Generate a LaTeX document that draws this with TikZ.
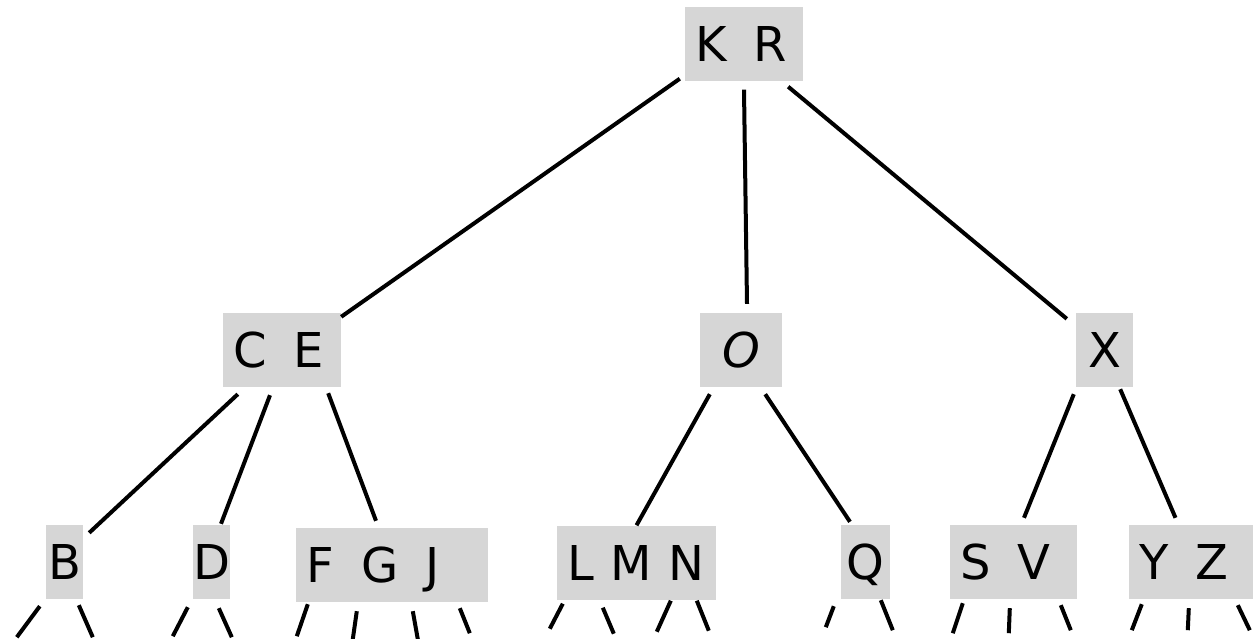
\documentclass[tikz,border=0pt]{standalone}
\usepackage{fontspec}
\setmainfont{DejaVu Sans}[WordSpace=1.8]
\newfontfamily\tightfamily{DejaVu Sans}[WordSpace=1.1]
\definecolor{keygray}{RGB}{214,214,214}
\newcommand{\keyfont}{\fontsize{48}{58}\selectfont}
\newcommand{\tightkeyfont}{\tightfamily\fontsize{48}{58}\selectfont}

\begin{document}
\begin{tikzpicture}[x=1pt,y=-1pt,
  key/.style={fill=keygray,minimum height=74pt,text height=35pt,text depth=0pt,
    inner xsep=10pt,align=flush left,font=\keyfont},
  single/.style={inner xsep=0pt,align=flush center},
  link/.style={line width=4pt}]
\useasboundingbox (0,0) rectangle (1253,639);

% root
\node[key,text width=98pt] (kr) at (744,44.5) {K R};

% middle row
\node[key,text width=98pt] (ce) at (282,350) {C E};
\node[key,single,minimum width=82pt] (o) at (741,350) {\itshape O};
\node[key,single,minimum width=57pt] (x) at (1104.5,350) {X};

% bottom row
\node[key,single,minimum width=37pt] (b) at (64.5,562) {B};
\node[key,single,minimum width=37pt] (d) at (211.5,562) {D};
\node[key,text width=172pt] (fgj) at (392,565) {F G J};
\node[key,text width=139pt,font=\tightkeyfont] (lmn) at (636.5,562.5) {L M N};
\node[key,single,minimum width=49pt] (q) at (865.5,562) {Q};
\node[key,text width=107pt] (sv) at (1013.5,562) {S V};
\node[key,text width=104pt] (yz) at (1191,562) {Y Z};

% links
\draw[link] ([shift={(-5,-3)}]kr.south west) -- ([shift={(0,4)}]ce.north east);
\draw[link] ([shift={(0,8)}]kr.south) -- ([shift={(6,-9)}]o.north);
\draw[link] ([shift={(-15,5)}]kr.south east) -- ([shift={(-9,6)}]x.north west);

\draw[link] ([shift={(15,7)}]ce.south west) -- ([shift={(6,8)}]b.north east);
\draw[link] ([shift={(-12,8)}]ce.south) -- ([shift={(9.5,-1)}]d.north);
\draw[link] ([shift={(-13,6)}]ce.south east) -- ([shift={(-16,-7)}]fgj.north);

\draw[link] ([shift={(10,7)}]o.south west) -- (lmn.north);
\draw[link] ([shift={(-17,7)}]o.south east) -- ([shift={(-15.5,-3)}]q.north);

\draw[link] ([shift={(-2,7)}]x.south west) -- ([shift={(10.5,-7)}]sv.north);
\draw[link] ([shift={(-13,2)}]x.south east) -- ([shift={(-15.5,-7)}]yz.north);

% links to the next level
\draw[link] ([shift={(-6,7)}]b.south west) -- ++(-23,31)
  ([shift={(33,6)}]b.south west) -- ++(14,32);
\draw[link] ([shift={(-5,8)}]d.south west) -- ++(-15,29)
  ([shift={(26,9)}]d.south west) -- ++(13,29);
\draw[link] ([shift={(12,2)}]fgj.south west) -- ++(-11,32)
  ([shift={(61,9)}]fgj.south west) -- ++(-4,28)
  ([shift={(117,9)}]fgj.south west) -- ++(5,28)
  ([shift={(164,6)}]fgj.south west) -- ++(10,25);
\draw[link] ([shift={(6,4)}]lmn.south west) -- ++(-13,25)
  ([shift={(46,8)}]lmn.south west) -- ++(11,26)
  ([shift={(114,1)}]lmn.south west) -- ++(-14,31)
  ([shift={(140,1)}]lmn.south west) -- ++(12,30);
\draw[link] ([shift={(-7,7)}]q.south west) -- ++(-8,21)
  ([shift={(40,1)}]q.south west) -- ++(12,30);
\draw[link] ([shift={(13,4)}]sv.south west) -- ++(-10,30)
  ([shift={(60,9)}]sv.south west) -- ++(-1,25)
  ([shift={(111,6)}]sv.south west) -- ++(10,25);
\draw[link] ([shift={(13,5)}]yz.south west) -- ++(-10,26)
  ([shift={(60,9)}]yz.south west) -- ++(-1,22)
  ([shift={(109,6)}]yz.south west) -- ++(12,25);
\end{tikzpicture}
\end{document}
